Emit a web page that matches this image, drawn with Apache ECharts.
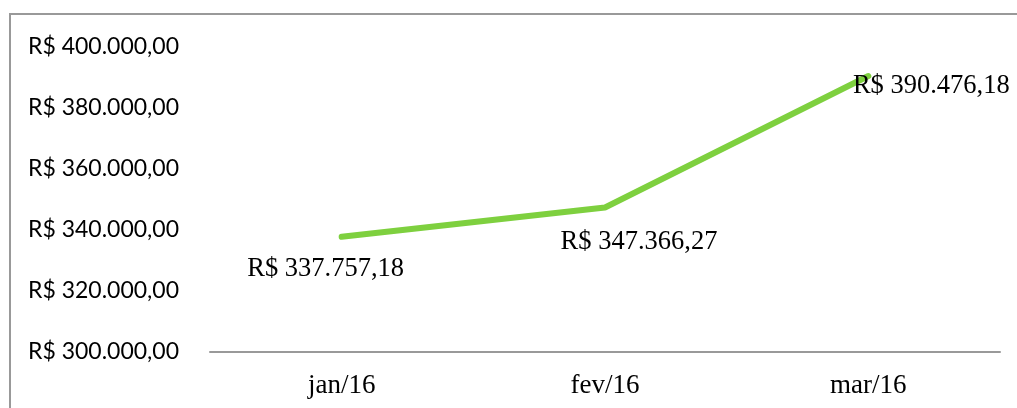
<!DOCTYPE html>
<html><head><meta charset="utf-8">
<script src="https://cdn.jsdelivr.net/npm/echarts@6/dist/echarts.min.js"></script>
<style>html,body{margin:0;padding:0;background:#fff}#c{width:1017px;height:408px}</style>
</head><body><div id="c"></div>
<script>
const categories = ['jan/16', 'fev/16', 'mar/16'];
const values = [337757.18, 347366.27, 390476.18];
const labelOffsets = [[-16, 32], [34, 35], [63, 10]];
const yMin = 300000, yMax = 400000, yStep = 20000;

function brl(v) {
  const parts = v.toFixed(2).split('.');
  const int = parts[0].replace(/\B(?=(\d{3})+(?!\d))/g, '.');
  return 'R$ ' + int + ',' + parts[1];
}

const chart = echarts.init(document.getElementById('c'), null, {renderer: 'canvas'});
chart.setOption({
  animation: false,
  grid: {left: 210, right: 17, top: 47, bottom: 56},
  graphic: [{type: 'rect', shape: {x: 10, y: 14, width: 1200, height: 600},
    style: {fill: 'none', stroke: '#999', lineWidth: 2}, silent: true, z: -1}],
  xAxis: {
    type: 'category', data: categories, boundaryGap: true,
    axisLine: {lineStyle: {color: '#999', width: 2}},
    axisTick: {show: false},
    axisLabel: {color: '#000', fontFamily: 'Liberation Serif', fontSize: 27, margin: 20}
  },
  yAxis: {
    type: 'value', min: yMin, max: yMax, interval: yStep,
    axisLine: {show: false}, axisTick: {show: false}, splitLine: {show: false},
    axisLabel: {color: '#000', fontFamily: 'Lato', fontSize: 23, align: 'left', margin: 182,
      formatter: v => brl(v)}
  },
  series: [{
    type: 'line', data: values.map((v, i) => ({
      value: v,
      label: {offset: labelOffsets[i]}
    })),
    symbol: 'circle', symbolSize: 1, showSymbol: true,
    itemStyle: {color: '#7ED03F'},
    lineStyle: {color: '#7ED03F', width: 6, cap: 'round'},
    label: {show: true, position: 'inside', color: '#000', fontFamily: 'Liberation Serif',
      fontSize: 26.5, align: 'center', verticalAlign: 'middle', formatter: p => brl(p.value)}
  }]
});
</script></body></html>
